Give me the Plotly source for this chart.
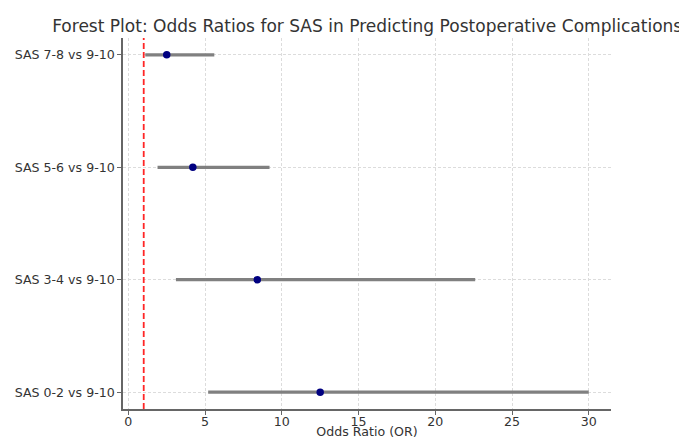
import plotly.graph_objects as go

categories = ["SAS 0-2 vs 9-10", "SAS 3-4 vs 9-10", "SAS 5-6 vs 9-10", "SAS 7-8 vs 9-10"]
odds_ratio = [12.5, 8.4, 4.2, 2.5]
ci_lower = [5.2, 3.1, 1.9, 1.1]
ci_upper = [30.0, 22.6, 9.2, 5.6]
reference_or = 1.0
x_ticks = [0, 5, 10, 15, 20, 25, 30]

font_family = "DejaVu Sans"

fig = go.Figure()

# confidence interval lines
xs, ys = [], []
for c, lo, hi in zip(categories, ci_lower, ci_upper):
    xs += [lo, hi, None]
    ys += [c, c, None]
fig.add_trace(go.Scatter(x=xs, y=ys, mode="lines",
                         line=dict(color="#808080", width=3.2),
                         showlegend=False, hoverinfo="skip"))

fig.add_trace(go.Scatter(x=odds_ratio, y=categories, mode="markers",
                         marker=dict(color="#000080", size=7.5),
                         showlegend=False))

fig.add_vline(x=reference_or, line=dict(color="rgba(255,0,0,0.85)", dash="6px,3px", width=1.8))

# page body has an 8px default margin, so the figure is sized to compensate
fig.update_layout(
    width=679, height=431,
    margin=dict(l=115, r=76, t=30, b=30),
    paper_bgcolor="white", plot_bgcolor="white",
    font=dict(family=font_family, size=12.6, color="#333333"),
    title=dict(text="Forest Plot: Odds Ratios for SAS in Predicting Postoperative Complications",
               x=0.529, xanchor="center", y=0.958, yanchor="middle",
               font=dict(size=17.05, color="#333333")),
)

fig.update_xaxes(range=[-0.35, 31.45], tickvals=x_ticks, ticktext=[str(t) for t in x_ticks],
                 automargin=False,
                 showgrid=True, gridcolor="#dcdcdc", griddash="3px,2px", gridwidth=0.8,
                 showline=True, linecolor="#666666", linewidth=1.5,
                 ticks="", ticklen=0, zeroline=False,
                 minor=dict(tickvals=x_ticks, ticks="outside", ticklen=4,
                            tickcolor="#666666", showgrid=False),
                 title=dict(text="Odds Ratio (OR)", standoff=12, font=dict(size=12.6)))
fig.update_yaxes(type="category", categoryorder="array", categoryarray=categories,
                 range=[-0.15, 3.15], automargin=False,
                 showgrid=True, gridcolor="#dcdcdc", griddash="3px,2px", gridwidth=0.8,
                 showline=True, linecolor="#666666", linewidth=1.5,
                 ticks="outside", ticklen=4, tickcolor="#666666", zeroline=False)

fig.write_html("out.html")
